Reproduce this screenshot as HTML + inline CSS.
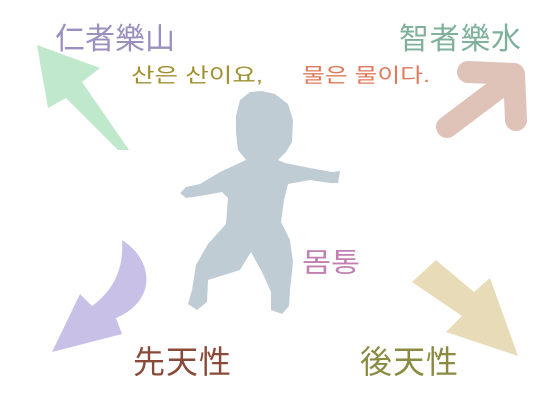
<!DOCTYPE html>
<html><head><meta charset="utf-8"><style>
body{margin:0;width:550px;height:400px;background:#fff;overflow:hidden;font-family:"Liberation Sans","Noto Sans CJK KR",sans-serif}
svg text{font-family:"Liberation Sans","Noto Sans CJK KR",sans-serif}
</style></head><body>
<svg width="550" height="400">
<polygon points="37,45 100,68 82,82 129,150 118,150 66,98 48,108" fill="#bfe8cc"/>
<g stroke="#dfc3b8" stroke-width="22" stroke-linecap="round" stroke-linejoin="round" fill="none">
<polyline points="447,127 512,78"/><polyline points="468,72 514,74 516,120"/></g>
<path d="M122,240 C156,262 155,302 116,318 L122,334 L52,352 L80,294 L92,306 C114,290 124,268 122,240 Z" fill="#c9c0e8"/>
<polygon points="412,282 436,260 474,292 490,278 518,356 446,332 462,316" fill="#e8dcb8"/>
<path fill="#c0ccd4" d="M240,100 L250,92 L262,91 L275,94 L288,104 L293,120 L292,142 L286,152 L278,160 L285,163 L310,168 L332,172 L340,171 L338,183 L330,183 L310,180 L288,184 L284,200 L281,222 L290,240 L293,262 L290,290 L289,306 L282,314 L271,310 L271,292 L262,272 L251,252 L240,270 L208,280 L207,302 L197,310 L188,304 L192,290 L196,265 L208,244 L226,224 L228,198 L222,192 L200,196 L186,198 L180,193 L186,187 L200,184 L220,172 L246,160 L238,150 L236,132 L236,116 Z"/>
<text x="55" y="49" font-size="30" textLength="120" fill="#9b8fc0">仁者樂山</text>
<text x="399" y="49" font-size="30" textLength="122" fill="#7fb09a">智者樂水</text>
<text x="131" y="82" font-size="20" textLength="132" lengthAdjust="spacingAndGlyphs" fill="#a09030">산은 산이요,</text>
<text x="302" y="82" font-size="20" textLength="128" lengthAdjust="spacingAndGlyphs" fill="#e0785a">물은 물이다.</text>
<text x="302" y="272" font-size="27" textLength="58" lengthAdjust="spacingAndGlyphs" fill="#c080b0">몸통</text>
<text x="133" y="373" font-size="32" textLength="98" fill="#8a4a3a">先天性</text>
<text x="360" y="373" font-size="32" textLength="98" fill="#8a8a40">後天性</text>
</svg>
</body></html>
